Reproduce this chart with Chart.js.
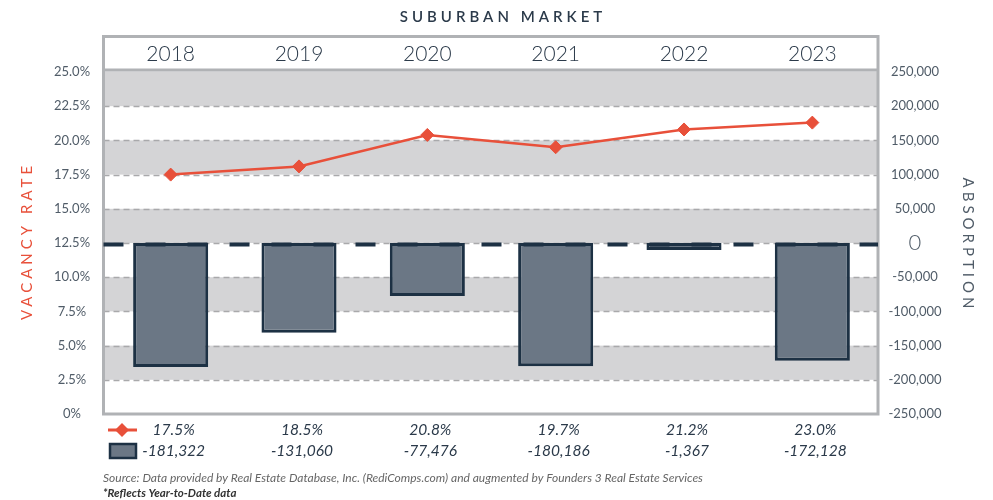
<!DOCTYPE html>
<html><head><meta charset="utf-8">
<script src="https://cdn.jsdelivr.net/npm/chart.js@4.4.1/dist/chart.umd.min.js"></script>
<style>html,body{margin:0;padding:0;background:#fff}#wrap{width:993px;height:500px;position:relative}</style>
</head><body><div id="wrap"><canvas id="c"></canvas></div>
<script>
const chartTitle = 'SUBURBAN MARKET';
const leftTitle = 'VACANCY RATE';
const rightTitle = 'ABSORPTION';
const years = ['2018', '2019', '2020', '2021', '2022', '2023'];
// vacancy rate as plotted in the picture
const vacancyPlotted = [17.5, 18.1, 20.4, 19.5, 20.8, 21.3];
// labels printed in the table below the chart
const vacancyLabels = ['17.5%', '18.5%', '20.8%', '19.7%', '21.2%', '23.0%'];
const absorption = [-181322, -131060, -77476, -180186, -1367, -172128];
const absorptionLabels = ['-181,322', '-131,060', '-77,476', '-180,186', '-1,367', '-172,128'];
const leftTickValues = [0, 2.5, 5, 7.5, 10, 12.5, 15, 17.5, 20, 22.5, 25];
const leftTickLabels = ['0%', '2.5%', '5.0%', '7.5%', '10.0%', '12.5%', '15.0%', '17.5%', '20.0%', '22.5%', '25.0%'];
const rightTickValues = [-250000, -200000, -150000, -100000, -50000, 0, 50000, 100000, 150000, 200000, 250000];
const rightTickLabels = ['-250,000', '-200,000', '-150,000', '-100,000', '-50,000', '0', '50,000', '100,000', '150,000', '200,000', '250,000'];
const sourceText = 'Source: Data provided by Real Estate Database, Inc. (RediComps.com) and augmented by Founders 3 Real Estate Services';
const noteText = '*Reflects Year-to-Date data';

const F = 'Lato, "Open Sans", sans-serif';
const RED = '#e8503a';
const DARK = '#2b3a4a';
const NAVY = '#1d3144';
const BARFILL = '#6b7785';
const GREY = '#d4d4d6';
const TICK = '#505c68';

const FL = 103.5, FR = 878, FT = 36.5, FB = 414;

function spacedText(ctx, text, x, y, spacing) {
  ctx.letterSpacing = spacing + 'px';
  ctx.fillText(text, x + spacing / 2, y);
  ctx.letterSpacing = '0px';
}

const deco = {
  id: 'deco',
  beforeDatasetsDraw(chart) {
    const ctx = chart.ctx, y = chart.scales.y;
    ctx.save();
    ctx.fillStyle = '#fff';
    ctx.fillRect(FL, FT, FR - FL, FB - FT);
    for (let k = 0; k < leftTickValues.length - 1; k++) {
      if (k % 2 === 1) {
        const y0 = y.getPixelForValue(leftTickValues[k]);
        let y1 = y.getPixelForValue(leftTickValues[k + 1]);
        if (k === leftTickValues.length - 2) y1 = 71.5;
        ctx.fillStyle = GREY;
        ctx.fillRect(FL, y1, FR - FL, y0 - y1);
      }
    }
    ctx.strokeStyle = '#a9a9ab';
    ctx.lineWidth = 1.5;
    ctx.setLineDash([6, 4]);
    leftTickValues.forEach(v => {
      if (v === 0 || v === 25) return;
      const py = Math.round(y.getPixelForValue(v)) + 0.5;
      ctx.beginPath(); ctx.moveTo(FL, py); ctx.lineTo(FR, py); ctx.stroke();
    });
    ctx.setLineDash([]);
    ctx.strokeStyle = '#b0b2b5';
    ctx.lineWidth = 3;
    ctx.strokeRect(FL, FT, FR - FL, FB - FT);
    ctx.beginPath(); ctx.moveTo(FL, 70); ctx.lineTo(FR, 70); ctx.stroke();
    ctx.restore();
  },
  afterDatasetDraw(chart, args) {
    if (args.meta.type !== 'bar') return;
    const ctx = chart.ctx, y1 = chart.scales.y1;
    const py = y1.getPixelForValue(0) + 1.5;
    ctx.save();
    ctx.strokeStyle = NAVY;
    ctx.lineWidth = 4;
    ctx.setLineDash([20, 22]);
    ctx.beginPath(); ctx.moveTo(FL, py); ctx.lineTo(FR, py); ctx.stroke();
    ctx.restore();
  },
  afterDraw(chart) {
    const ctx = chart.ctx, x = chart.scales.x, y = chart.scales.y, y1 = chart.scales.y1;
    ctx.save();
    // title
    ctx.fillStyle = DARK;
    ctx.textAlign = 'center';
    ctx.textBaseline = 'middle';
    ctx.font = '600 15px ' + F;
    spacedText(ctx, chartTitle, 501, 17, 4);
    // years
    ctx.font = '300 21px ' + F;
    ctx.fillStyle = DARK;
    years.forEach((t, i) => ctx.fillText(t, x.getPixelForValue(i), 54));
    // left ticks
    ctx.font = '13px ' + F;
    ctx.fillStyle = TICK;
    leftTickValues.forEach((v, i) => ctx.fillText(leftTickLabels[i], 72, y.getPixelForValue(v)));
    rightTickValues.forEach((v, i) => {
      ctx.font = (v === 0 ? '300 22px ' : '13px ') + F;
      ctx.fillText(rightTickLabels[i], 915, y1.getPixelForValue(v));
    });
    // axis titles
    ctx.save();
    ctx.translate(27, 243);
    ctx.rotate(-Math.PI / 2);
    ctx.fillStyle = RED;
    ctx.font = '15px ' + F;
    spacedText(ctx, leftTitle, 0, 0, 4);
    ctx.restore();
    ctx.save();
    ctx.translate(968, 243);
    ctx.rotate(Math.PI / 2);
    ctx.fillStyle = TICK;
    ctx.font = '15px ' + F;
    spacedText(ctx, rightTitle, 0, 0, 4);
    ctx.restore();
    // legend icons
    ctx.strokeStyle = RED; ctx.lineWidth = 3;
    ctx.beginPath(); ctx.moveTo(108, 430); ctx.lineTo(137, 430); ctx.stroke();
    ctx.fillStyle = RED;
    ctx.beginPath(); ctx.moveTo(122, 423); ctx.lineTo(129, 430); ctx.lineTo(122, 437); ctx.lineTo(115, 430); ctx.closePath(); ctx.fill();
    ctx.fillStyle = BARFILL; ctx.strokeStyle = NAVY; ctx.lineWidth = 2.5;
    ctx.fillRect(110, 444, 26, 14); ctx.strokeRect(110, 444, 26, 14);
    // table values
    ctx.fillStyle = DARK;
    ctx.font = 'italic 15.5px ' + F;
    ctx.textAlign = 'center';
    years.forEach((t, i) => {
      const px = x.getPixelForValue(i) + 3;
      ctx.fillText(vacancyLabels[i], px, 430);
      ctx.fillText(absorptionLabels[i], px, 451);
    });
    // source
    ctx.textAlign = 'left';
    ctx.fillStyle = '#666';
    ctx.font = 'italic 12px ' + F;
    ctx.fillText(sourceText, 103, 478);
    ctx.fillStyle = '#333';
    ctx.font = 'italic bold 11.5px ' + F;
    ctx.fillText(noteText, 103, 493);
    ctx.restore();
  }
};

new Chart(document.getElementById('c'), {
  data: {
    labels: years,
    datasets: [
      {
        type: 'line', label: 'Vacancy Rate', data: vacancyPlotted, yAxisID: 'y', order: 1,
        borderColor: RED, backgroundColor: RED, borderWidth: 2.5, tension: 0,
        pointStyle: 'rectRot', pointRadius: 6.5, pointBackgroundColor: RED, pointBorderColor: RED, pointBorderWidth: 1
      },
      {
        type: 'bar', label: 'Absorption', data: absorption, yAxisID: 'y1', order: 2,
        backgroundColor: BARFILL, borderColor: NAVY, borderWidth: 3, borderSkipped: false,
        barPercentage: 0.585, categoryPercentage: 1, minBarLength: 7
      }
    ]
  },
  options: {
    responsive: true, maintainAspectRatio: false, animation: false,
    layout: { padding: { left: 106.5, right: 116.5, top: 72, bottom: 86 } },
    plugins: { legend: { display: false }, tooltip: { enabled: false }, title: { display: false } },
    scales: {
      x: { display: false },
      y: { display: false, position: 'left', min: 0, max: 25 },
      y1: { display: false, position: 'right', min: -250000, max: 250000 }
    }
  },
  plugins: [deco]
});
</script>
</body></html>
